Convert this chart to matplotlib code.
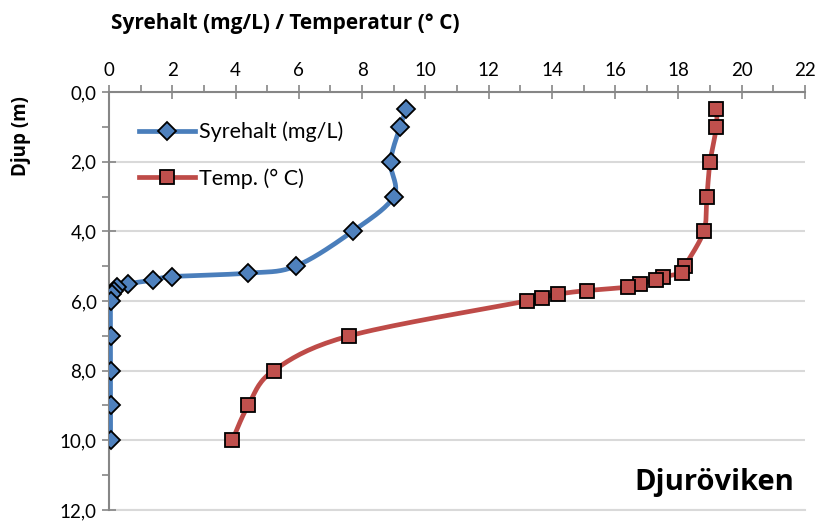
import numpy as np
import matplotlib.pyplot as plt
from matplotlib.ticker import MultipleLocator, FuncFormatter

# ------------------------------------------------------------
# Data
# ------------------------------------------------------------

oxygen = [9.4, 9.2, 8.9, 9.0, 7.7, 5.9, 4.4, 2.0, 1.4, 0.6, 0.25, 0.15, 0.1,
          0.05, 0.05, 0.05, 0.05, 0.05]
oxygen_depth = [0.5, 1.0, 2.0, 3.0, 4.0, 5.0, 5.2, 5.3, 5.4, 5.5, 5.6, 5.7,
                5.8, 6.0, 7.0, 8.0, 9.0, 10.0]

temp = [19.2, 19.2, 19.0, 18.9, 18.8, 18.2, 18.1, 17.5, 17.3, 16.8, 16.4,
        15.1, 14.2, 13.7, 13.2, 7.6, 5.2, 4.4, 3.9]
temp_depth = [0.5, 1.0, 2.0, 3.0, 4.0, 5.0, 5.2, 5.3, 5.4, 5.5, 5.6, 5.7,
              5.8, 5.9, 6.0, 7.0, 8.0, 9.0, 10.0]

BLUE = "#4A7EBB"
BLUE_MK = "#4F81BD"
RED = "#BE4B48"
RED_MK = "#C0504D"
GRAY = "#868686"


def smooth(xs, ys, n=20):
    # Catmull-Rom style smoothing, like Excel "smoothed line"
    x = np.asarray(xs, float)
    y = np.asarray(ys, float)
    px = np.concatenate([[x[0]], x, [x[-1]]])
    py = np.concatenate([[y[0]], y, [y[-1]]])
    out_x, out_y = [], []
    t = np.linspace(0, 1, n)
    for i in range(1, len(px) - 2):
        p0, p1, p2, p3 = [np.array([px[j], py[j]]) for j in range(i - 1, i + 3)]
        c1 = p1 + (p2 - p0) / 6.0
        c2 = p2 - (p3 - p1) / 6.0
        for tt in t:
            pt = ((1 - tt) ** 3 * p1 + 3 * (1 - tt) ** 2 * tt * c1
                  + 3 * (1 - tt) * tt ** 2 * c2 + tt ** 3 * p2)
            out_x.append(pt[0])
            out_y.append(pt[1])
    return out_x, out_y


plt.rcParams["font.family"] = ["Lato", "DejaVu Sans"]
BOLD_FONT = ["Open Sans", "DejaVu Sans"]

fig = plt.figure(figsize=(8.19, 5.21), dpi=100)
ax = fig.add_axes([109 / 819, 1 - 510 / 521, 696 / 819, 418 / 521])

diamond = dict(marker="D", markersize=9.5, markerfacecolor=BLUE_MK,
               markeredgecolor="black", markeredgewidth=1.3)
square = dict(marker="s", markersize=10.5, markerfacecolor=RED_MK,
              markeredgecolor="black", markeredgewidth=1.3)

# lines
sx, sy = smooth(oxygen, oxygen_depth)
ax.plot(sx, sy, color=BLUE, linewidth=3.4, zorder=3)
ax.plot(oxygen, oxygen_depth, linestyle="none", zorder=4, **diamond)

sx, sy = smooth(temp, temp_depth)
ax.plot(sx, sy, color=RED, linewidth=3.4, zorder=3)
ax.plot(temp, temp_depth, linestyle="none", zorder=4, **square)

# legend handles
ax.plot([], [], color=BLUE, linewidth=3.4, label="Syrehalt (mg/L)", **diamond)
ax.plot([], [], color=RED, linewidth=3.4, label="Temp. (° C)", **square)

ax.set_xlim(0, 22)
ax.set_ylim(12, 0)

ax.xaxis.set_major_locator(MultipleLocator(2))
ax.xaxis.set_minor_locator(MultipleLocator(1))
ax.yaxis.set_major_locator(MultipleLocator(2))
ax.yaxis.set_minor_locator(MultipleLocator(1))
ax.yaxis.set_major_formatter(FuncFormatter(lambda v, p: f"{v:.1f}".replace(".", ",")))

ax.xaxis.tick_top()
ax.xaxis.set_label_position("top")
ax.tick_params(axis="both", which="major", direction="inout", length=10,
               width=1.2, color=GRAY, labelsize=13.5, pad=4)
ax.tick_params(axis="both", which="minor", direction="out", length=5,
               width=1.2, color=GRAY)

for side in ["right", "bottom"]:
    ax.spines[side].set_visible(False)
for side in ["left", "top"]:
    ax.spines[side].set_color(GRAY)
    ax.spines[side].set_linewidth(1.5)

ax.grid(axis="y", which="major", color="#D9D9D9", linewidth=1.5)
ax.axhline(12, color="#D9D9D9", linewidth=1.5, clip_on=False, zorder=0)
ax.set_axisbelow(True)

ax.set_xlabel("Syrehalt (mg/L) / Temperatur (° C)", fontsize=15,
              fontweight="bold", family=BOLD_FONT)
ax.xaxis.set_label_coords(0.254, 1.15)
ax.set_ylabel("Djup (m)", fontsize=13.5, fontweight="bold", family=BOLD_FONT)
ax.yaxis.set_label_coords(-0.112, 0.895)

ax.legend(loc="upper left", bbox_to_anchor=(0.015, 0.975), frameon=False,
          fontsize=15.5, handlelength=2.6, labelspacing=1.2, handletextpad=0.2)

ax.text(0.985, 0.03, "Djuröviken", transform=ax.transAxes, ha="right",
        va="bottom", fontsize=21, fontweight="bold", family=BOLD_FONT)

fig.savefig("out.png", dpi=100)
